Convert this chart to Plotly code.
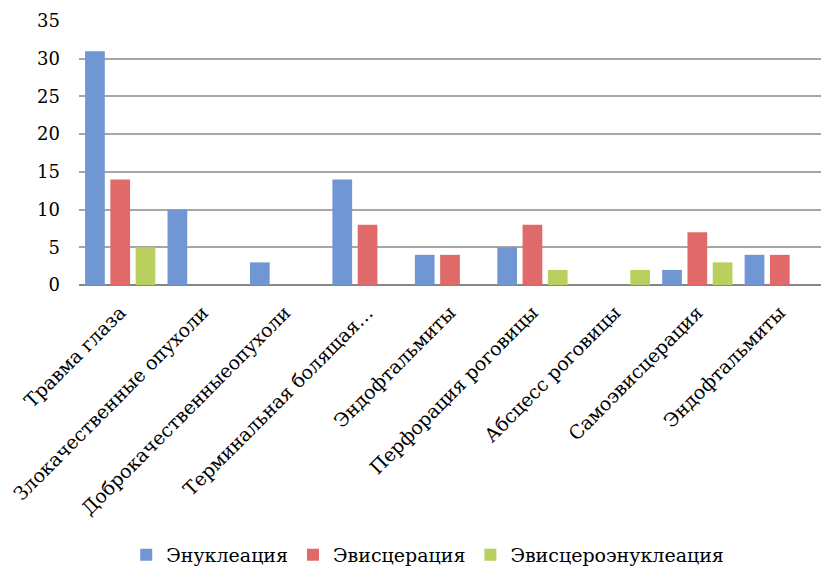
import plotly.graph_objects as go

categories = ["Травма глаза", "Злокачественные опухоли", "Доброкачественныеопухоли",
              "Терминальная болящая…", "Эндофтальмиты", "Перфорация роговицы",
              "Абсцесс роговицы", "Самоэвисцерация", "Эндофтальмиты"]
enucleation = [31, 10, 3, 14, 4, 5, 0, 2, 4]
evisceration = [14, 0, 0, 8, 4, 8, 0, 7, 4]
evisc_enucleation = [5, 0, 0, 0, 0, 2, 2, 3, 0]
series_names = ["Энуклеация", "Эвисцерация", "Эвисцероэнуклеация"]
colors = ["#7097d3", "#e06a6a", "#b9d05e"]
y_ticks = [0, 5, 10, 15, 20, 25, 30, 35]

positions = list(range(len(categories)))
font_family = "DejaVu Serif"

fig = go.Figure()
for name, vals, col in zip(series_names, [enucleation, evisceration, evisc_enucleation], colors):
    fig.add_trace(go.Bar(x=positions, y=vals, name=name, marker=dict(color=col, line=dict(width=0))))

fig.update_layout(
    width=821, height=569,
    margin=dict(l=79, r=0, t=21, b=284, autoexpand=False),
    paper_bgcolor="white", plot_bgcolor="white",
    barmode="group", bargap=0.08, bargroupgap=0.22,
    font=dict(family=font_family, size=18, color="#000000"),
    showlegend=True,
    legend=dict(orientation="h", x=0.47, xanchor="center",
                yref="container", y=0.025, yanchor="middle",
                font=dict(family=font_family, size=19), itemwidth=30,
                traceorder="normal"),
)
fig.update_xaxes(
    range=[-0.5, len(categories) - 0.5],
    tickmode="array", tickvals=positions, ticktext=categories,
    tickangle=-45, showgrid=False, showline=False, zeroline=False,
    ticks="outside", ticklen=8, tickcolor="rgba(255,255,255,0)",
    automargin=False, tickfont=dict(family=font_family, size=19),
)
fig.update_yaxes(
    range=[0, 35], tickmode="array", tickvals=y_ticks,
    showgrid=True, gridcolor="#a6a6a6", gridwidth=1.5,
    zeroline=True, zerolinecolor="#868686", zerolinewidth=2,
    showline=False, ticks="", ticklabelstandoff=18, automargin=False,
    tickfont=dict(family=font_family, size=18),
)

fig.write_html("out.html")
